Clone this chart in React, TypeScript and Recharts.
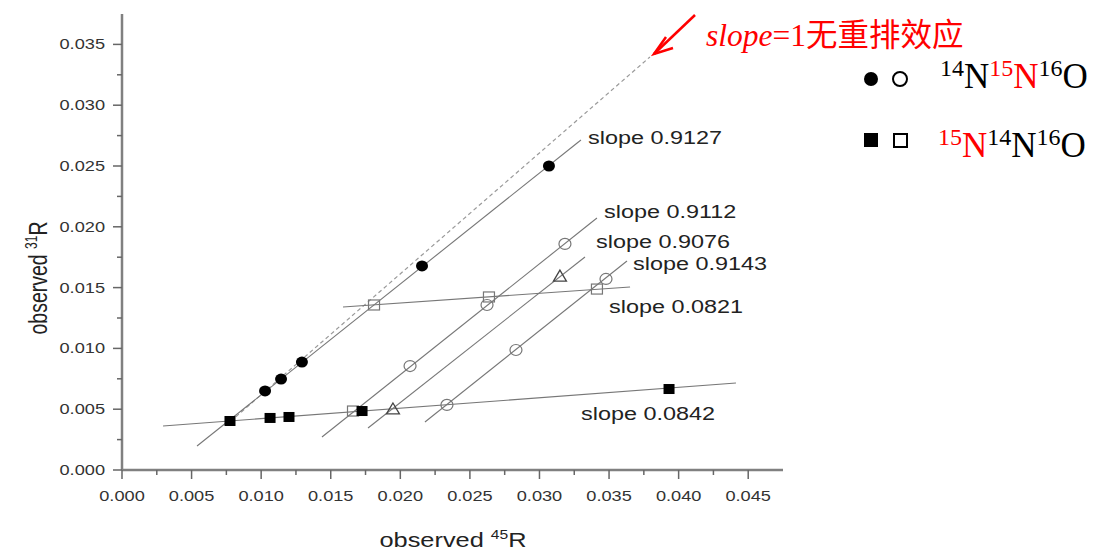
import React from 'react';
import { ScatterChart, Scatter, XAxis, YAxis, ReferenceLine } from 'recharts';

const xTickLabels = ['0.000', '0.005', '0.010', '0.015', '0.020', '0.025', '0.030', '0.035', '0.040', '0.045'];
const yTickLabels = ['0.000', '0.005', '0.010', '0.015', '0.020', '0.025', '0.030', '0.035'];
const xMinorTicks = [0.0025, 0.0075, 0.0125, 0.0175, 0.0225, 0.0275, 0.0325, 0.0375, 0.0425];
const yMinorTicks = [0.0025, 0.0075, 0.0125, 0.0175, 0.0225, 0.0275, 0.0325];

// 14N15N16O, filled
const filledCircles = [
  { x: 0.01028, y: 0.0065 },
  { x: 0.01143, y: 0.00748 },
  { x: 0.01293, y: 0.00888 },
  { x: 0.02156, y: 0.01678 },
  { x: 0.03068, y: 0.025 },
];
// 15N14N16O, filled
const filledSquares = [
  { x: 0.00776, y: 0.00403 },
  { x: 0.01064, y: 0.00428 },
  { x: 0.012, y: 0.00436 },
  { x: 0.01725, y: 0.00485 },
  { x: 0.03931, y: 0.00666 },
];
const openSquares = [
  { x: 0.0166, y: 0.00485 },
  { x: 0.01811, y: 0.01357 },
  { x: 0.02637, y: 0.01423 },
  { x: 0.03413, y: 0.01488 },
];
const openCircles = [
  { x: 0.0207, y: 0.00855 },
  { x: 0.02623, y: 0.01357 },
  { x: 0.03183, y: 0.01859 },
  { x: 0.02335, y: 0.00535 },
  { x: 0.02831, y: 0.00987 },
  { x: 0.03478, y: 0.01571 },
];
const triangles = [
  { x: 0.01947, y: 0.00502 },
  { x: 0.03147, y: 0.01595 },
];

// fitted lines: [x1, y1, x2, y2]
const fitLines = [
  [0.00539, 0.00197, 0.03298, 0.02714],
  [0.01437, 0.00271, 0.03413, 0.02072],
  [0.01768, 0.00345, 0.03327, 0.01752],
  [0.02177, 0.00395, 0.03629, 0.01719],
  [0.01588, 0.0134, 0.03651, 0.01505],
  [0.00295, 0.00362, 0.04412, 0.00715],
];
const slopeOneLine = [0.0078, 0.004, 0.03794, 0.03397];

const slopeLabels = ['slope 0.9127', 'slope 0.9112', 'slope 0.9076', 'slope 0.9143', 'slope 0.0821', 'slope 0.0842'];
const slopeLabelPos = [
  [588, 138],
  [604, 212],
  [596, 242],
  [633, 264],
  [609, 307],
  [581, 414],
];

const xMajor = xTickLabels.map(Number);
const yMajor = yTickLabels.map(Number);
const xTicks = [...xMajor, ...xMinorTicks].sort((a, b) => a - b);
const yTicks = [...yMajor, ...yMinorTicks].sort((a, b) => a - b);

const AXIS = '#808080';
const TICKTXT = '#333';
const LINE = '#777';

const tickFont = { fontFamily: 'Liberation Sans, Arial, sans-serif', fontSize: 14, fill: TICKTXT };

const BottomTick = (props: any) => {
  const { x, y, payload } = props;
  const major = xMajor.includes(payload.value);
  return (
    <g>
      <line x1={x} x2={x} y1={y} y2={y + (major ? 9 : 5)} stroke="#666" strokeWidth={1.5} />
      {major && (
        <text transform={`translate(${x},${y + 31}) scale(1.3,1)`} textAnchor="middle" {...tickFont}>
          {payload.value.toFixed(3)}
        </text>
      )}
    </g>
  );
};

const TopTick = (props: any) => {
  const { x, y, payload } = props;
  const major = xMajor.includes(payload.value);
  return <line x1={x} x2={x} y1={y} y2={y + (major ? 9 : 6)} stroke="#555" strokeWidth={1.5} />;
};

const LeftTick = (props: any) => {
  const { x, y, payload } = props;
  const major = yMajor.includes(payload.value);
  return (
    <g>
      <line x1={x} x2={x - (major ? 9 : 5)} y1={y} y2={y} stroke="#666" strokeWidth={1.5} />
      {major && (
        <text transform={`translate(${x - 17},${y + 5}) scale(1.3,1)`} textAnchor="end" {...tickFont}>
          {payload.value.toFixed(3)}
        </text>
      )}
    </g>
  );
};

const RightTick = (props: any) => {
  const { x, y, payload } = props;
  const major = yMajor.includes(payload.value);
  return <line x1={x} x2={x - (major ? 9 : 6)} y1={y} y2={y} stroke="#555" strokeWidth={1.5} />;
};

const FilledCircle = (p: any) => <ellipse cx={p.cx} cy={p.cy} rx={6} ry={5.5} fill="#000" />;
const FilledSquare = (p: any) => <rect x={p.cx - 5.5} y={p.cy - 5} width={11} height={10} fill="#000" />;
const OpenCircle = (p: any) => (
  <ellipse cx={p.cx} cy={p.cy} rx={6} ry={5.5} fill="none" stroke="#777" strokeWidth={1.2} />
);
const OpenSquare = (p: any) => (
  <rect x={p.cx - 5.5} y={p.cy - 5} width={11} height={10} fill="none" stroke="#777" strokeWidth={1.2} />
);
const Triangle = (p: any) => (
  <path
    d={`M${p.cx},${p.cy - 6} L${p.cx + 6.5},${p.cy + 5} L${p.cx - 6.5},${p.cy + 5} Z`}
    fill="none"
    stroke="#444"
    strokeWidth={1.3}
  />
);

const serif = 'Liberation Serif, Times New Roman, serif';
const sans = 'Liberation Sans, Arial, sans-serif';

export default function App() {
  return (
    <div style={{ position: 'relative', width: 1099, height: 552, background: '#fff', overflow: 'hidden' }}>
      <style>{'body{margin:0}'}</style>
      <ScatterChart width={1099} height={552} margin={{ top: 14, right: 316, bottom: 52, left: 62 }}>
        <XAxis
          type="number"
          dataKey="x"
          domain={[0, 0.0475]}
          ticks={xTicks}
          interval={0}
          tickSize={0}
          tickMargin={0}
          tickLine={false}
          height={30}
          axisLine={{ stroke: AXIS, strokeWidth: 2.5 }}
          tick={<BottomTick />}
        />
        <XAxis
          xAxisId="top"
          orientation="top"
          type="number"
          dataKey="x"
          domain={[0, 0.0475]}
          ticks={xTicks}
          interval={0}
          tickSize={0}
          tickMargin={0}
          tickLine={false}
          height={0}
          axisLine={{ stroke: AXIS, strokeWidth: 2.5 }}
          tick={<TopTick />}
        />
        <YAxis
          type="number"
          dataKey="y"
          domain={[0, 0.0375]}
          ticks={yTicks}
          interval={0}
          tickSize={0}
          tickMargin={0}
          tickLine={false}
          width={60}
          axisLine={{ stroke: AXIS, strokeWidth: 2.5 }}
          tick={<LeftTick />}
        />
        <YAxis
          yAxisId="right"
          orientation="right"
          type="number"
          dataKey="y"
          domain={[0, 0.0375]}
          ticks={yTicks}
          interval={0}
          tickSize={0}
          tickMargin={0}
          tickLine={false}
          width={0}
          axisLine={{ stroke: AXIS, strokeWidth: 2.5 }}
          tick={<RightTick />}
        />
        <ReferenceLine
          segment={[
            { x: slopeOneLine[0], y: slopeOneLine[1] },
            { x: slopeOneLine[2], y: slopeOneLine[3] },
          ]}
          stroke="#9a9a9a"
          strokeWidth={1.2}
          strokeDasharray="4 3"
        />
        {fitLines.map((l, i) => (
          <ReferenceLine
            key={i}
            segment={[
              { x: l[0], y: l[1] },
              { x: l[2], y: l[3] },
            ]}
            stroke={LINE}
            strokeWidth={1.1}
          />
        ))}
        <Scatter data={openSquares} shape={OpenSquare} isAnimationActive={false} />
        <Scatter data={openCircles} shape={OpenCircle} isAnimationActive={false} />
        <Scatter data={triangles} shape={Triangle} isAnimationActive={false} />
        <Scatter data={filledCircles} shape={FilledCircle} isAnimationActive={false} />
        <Scatter data={filledSquares} shape={FilledSquare} isAnimationActive={false} />
      </ScatterChart>

      {slopeLabels.map((t, i) => (
        <div
          key={t}
          style={{
            position: 'absolute',
            left: slopeLabelPos[i][0],
            top: slopeLabelPos[i][1] - 11,
            height: 22,
            lineHeight: '22px',
            fontFamily: sans,
            fontSize: 18,
            color: '#222',
            whiteSpace: 'nowrap',
            transform: 'scaleX(1.3)',
            transformOrigin: 'left center',
          }}
        >
          {t}
        </div>
      ))}

      <div
        style={{
          position: 'absolute',
          left: 453,
          top: 540,
          fontFamily: sans,
          fontSize: 19.5,
          color: '#222',
          whiteSpace: 'nowrap',
          transform: 'translate(-50%,-50%) scaleX(1.3)',
          lineHeight: '24px',
        }}
      >
        observed <sup style={{ fontSize: 12, verticalAlign: '8px', lineHeight: 0 }}>45</sup>R
      </div>
      <div
        style={{
          position: 'absolute',
          left: 38,
          top: 278,
          fontFamily: sans,
          fontSize: 19.5,
          color: '#222',
          whiteSpace: 'nowrap',
          transform: 'translate(-50%,-50%) rotate(-90deg) scaleY(1.3)',
          lineHeight: '24px',
        }}
      >
        observed <sup style={{ fontSize: 12, verticalAlign: '8px', lineHeight: 0 }}>31</sup>R
      </div>

      <svg style={{ position: 'absolute', left: 0, top: 0 }} width={1099} height={552}>
        <line x1={695} y1={15} x2={654} y2={54} stroke="#f00" strokeWidth={2.5} />
        <path d="M666,37 L654,54 L673,48" fill="none" stroke="#f00" strokeWidth={2.5} />
        <text x={706} y={46} fontSize={31.5} fill="#f00">
          <tspan fontFamily={serif} fontStyle="italic">slope</tspan>
          <tspan fontFamily={serif}>=1</tspan>
          <tspan fontFamily="Noto Sans CJK SC, sans-serif">无重排效应</tspan>
        </text>

        <ellipse cx={871} cy={79} rx={7} ry={7} fill="#000" />
        <ellipse cx={900} cy={79} rx={7} ry={7} fill="none" stroke="#000" strokeWidth={2} />
        <rect x={864} y={133} width={14} height={14} fill="#000" />
        <rect x={894} y={134} width={13} height={13} fill="none" stroke="#000" strokeWidth={2} />

        <text x={940} y={88} fontFamily={serif} fontSize={35} fill="#000">
          <tspan fontSize={24} dy={-12}>14</tspan>
          <tspan dy={12}>N</tspan>
          <tspan fontSize={24} dy={-12} fill="#f00">15</tspan>
          <tspan dy={12} fill="#f00">N</tspan>
          <tspan fontSize={24} dy={-12}>16</tspan>
          <tspan dy={12}>O</tspan>
        </text>
        <text x={938} y={157} fontFamily={serif} fontSize={35} fill="#000">
          <tspan fontSize={24} dy={-12} fill="#f00">15</tspan>
          <tspan dy={12} fill="#f00">N</tspan>
          <tspan fontSize={24} dy={-12}>14</tspan>
          <tspan dy={12}>N</tspan>
          <tspan fontSize={24} dy={-12}>16</tspan>
          <tspan dy={12}>O</tspan>
        </text>
      </svg>
    </div>
  );
}
